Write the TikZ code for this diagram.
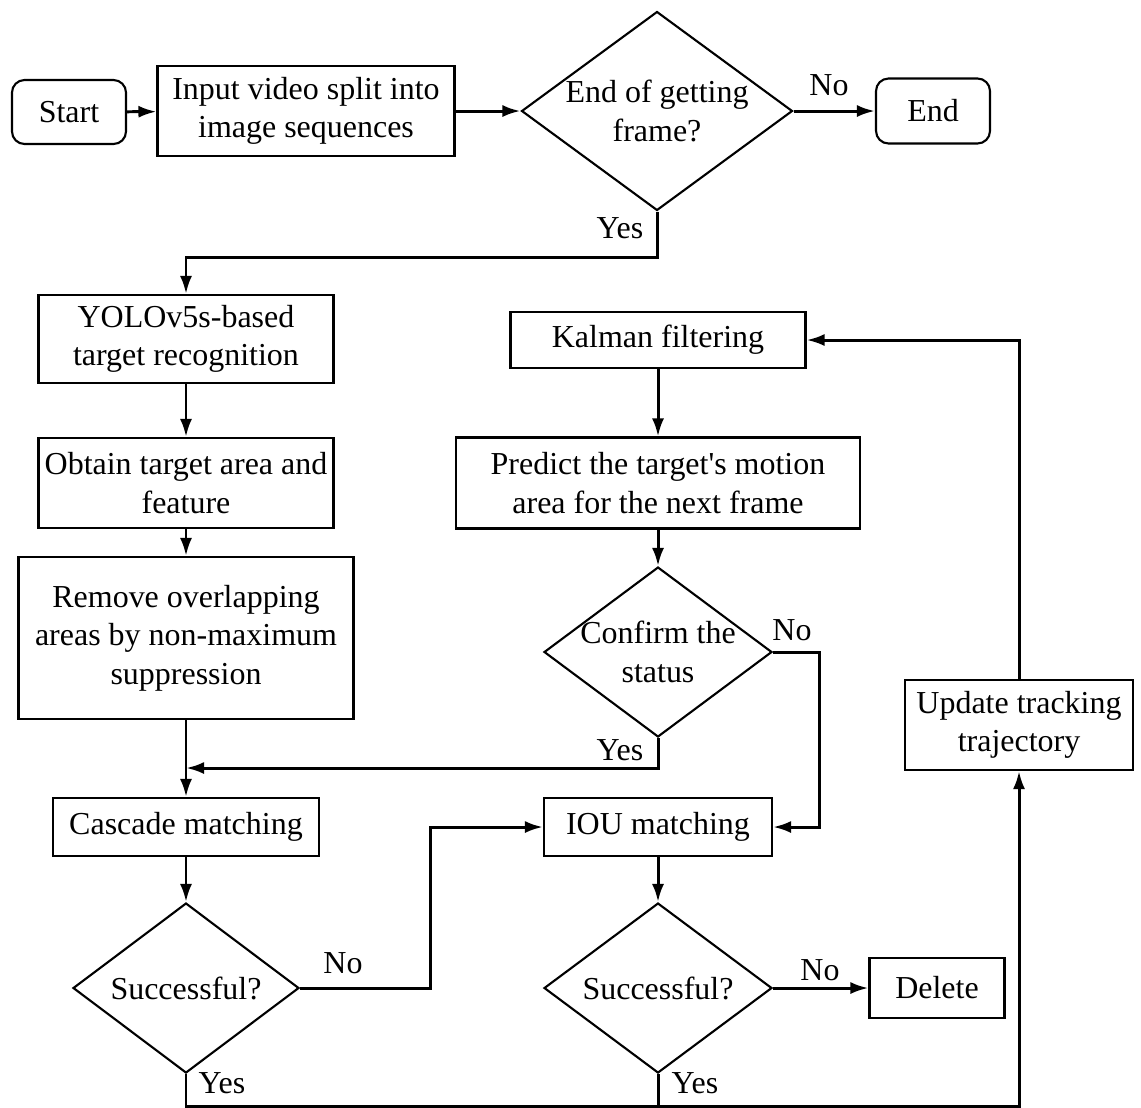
\documentclass[tikz,border=0pt]{standalone}
\usepackage{fontspec}
\setmainfont{Liberation Serif}
\usetikzlibrary{shapes.geometric,arrows.meta}
\tikzset{
  base/.style={draw, line width=1.2pt, align=center, inner sep=0pt, font=\fontsize{18.2}{21.8}\selectfont},
  procbox/.style={base, rectangle},
  termbox/.style={base, rectangle, rounded corners=0.25cm},
  decbox/.style={base, diamond, inner sep=-30pt},
  arr/.style={line width=1.7pt, -{Latex[length=0.36cm,width=0.24cm]}},
  ln/.style={line width=1.7pt},
  lbl/.style={font=\fontsize{18.2}{21.8}\selectfont, inner sep=0pt}
}
\begin{document}
\begin{tikzpicture}[x=0.02cm,y=-0.02cm]
\useasboundingbox (0,0) rectangle (1141,1107);
% nodes
\node[termbox, minimum width=2.28cm, minimum height=1.28cm] (start) at (69,112) {Start};
\node[procbox, minimum width=5.94cm, minimum height=1.8cm] (input) at (306,111) {Input video split into\\image sequences};
\node[decbox, minimum width=5.42cm, minimum height=3.98cm] (d1) at (657,111) {End of getting\\frame?};
\node[termbox, minimum width=2.28cm, minimum height=1.3cm] (end) at (933,111) {End};
\node[procbox, minimum width=5.9cm, minimum height=1.76cm] (yolo) at (186,339) {YOLOv5s-based\\target recognition};
\node[procbox, minimum width=5.9cm, minimum height=1.8cm] (obtain) at (186,483) {Obtain target area and\\feature};
\node[procbox, minimum width=6.7cm, minimum height=3.24cm] (remove) at (186,638) {Remove overlapping\\areas by non-maximum\\suppression};
\node[procbox, minimum width=5.32cm, minimum height=1.16cm] (cascade) at (186,827) {Cascade matching};
\node[decbox, minimum width=4.52cm, minimum height=3.4cm] (s1) at (186,988) {Successful?};
\node[procbox, minimum width=5.9cm, minimum height=1.12cm] (kalman) at (658,340) {Kalman filtering};
\node[procbox, minimum width=8.08cm, minimum height=1.82cm] (predict) at (658,483) {Predict the target\textquotesingle s motion\\area for the next frame};
\node[decbox, minimum width=4.56cm, minimum height=3.4cm] (confirm) at (658,652) {Confirm the\\status};
\node[procbox, minimum width=4.56cm, minimum height=1.16cm] (iou) at (658,827) {IOU matching};
\node[decbox, minimum width=4.56cm, minimum height=3.4cm] (s2) at (658,988) {Successful?};
\node[procbox, minimum width=2.7cm, minimum height=1.2cm] (del) at (937,988) {Delete};
\node[procbox, minimum width=4.56cm, minimum height=1.8cm] (update) at (1019,725) {Update tracking\\trajectory};
\coordinate (m1) at (186,768);
% connectors
\draw[arr] (start) -- (input);
\draw[arr] (input) -- (d1);
\draw[arr] (d1) -- (end);
\draw[arr] (d1.south) -- ++(0,46) -| (yolo.north);
\draw[arr] (yolo) -- (obtain);
\draw[arr] (obtain) -- (remove);
\draw[arr] (remove) -- (cascade);
\draw[arr] (cascade) -- (s1);
\draw[arr] (kalman) -- (predict);
\draw[arr] (predict) -- (confirm);
\draw[arr] (confirm.south) |- (m1);
\draw[arr] (confirm.east) -- ++(46,0) |- (iou.east);
\draw[arr] (s1.east) -- ++(130,0) |- (iou.west);
\draw[arr] (iou) -- (s2);
\draw[arr] (s2) -- (del);
\draw[arr] (s1.south) -- ++(0,32) -| (update.south);
\draw[ln] (s2.south) -- ++(0,32);
\draw[arr] (update.north) |- (kalman.east);
% labels
\node[lbl] (l1) at (829,85) {No};
\node[lbl] (l2) at (620,228) {Yes};
\node[lbl] (l3) at (792,630) {No};
\node[lbl] (l4) at (620,750) {Yes};
\node[lbl] (l5) at (343,963) {No};
\node[lbl] (l6) at (222,1083) {Yes};
\node[lbl] (l7) at (820,970) {No};
\node[lbl] (l8) at (695,1083) {Yes};
\end{tikzpicture}
\end{document}
